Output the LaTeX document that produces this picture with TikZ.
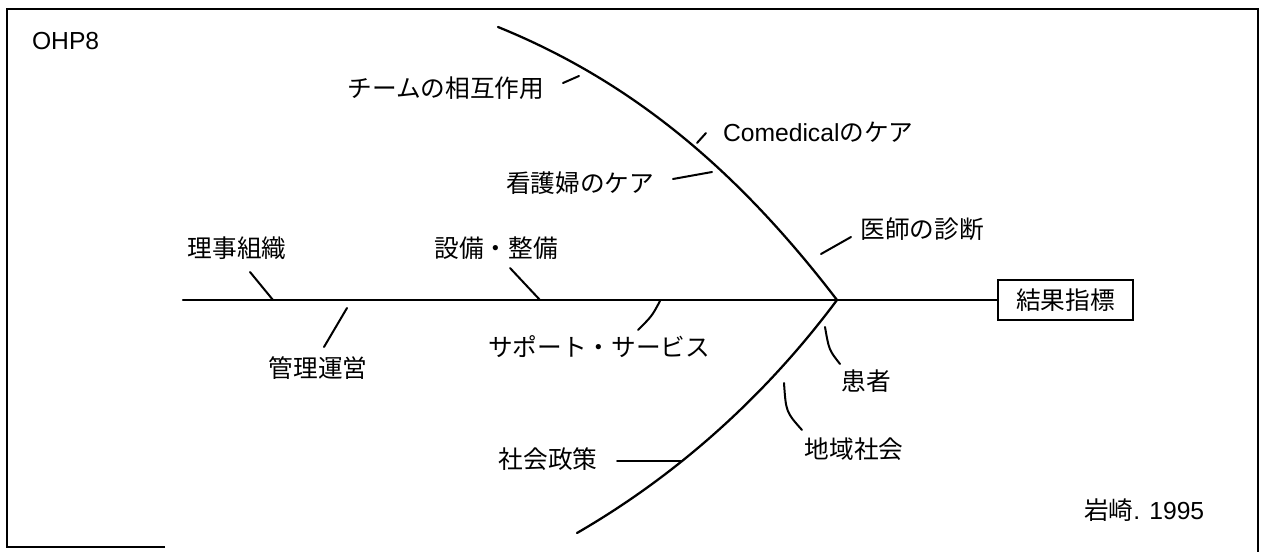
\documentclass[tikz,border=0pt]{standalone}
\usepackage{fontspec}
\setmainfont{Liberation Sans}
\newfontfamily\jp{Noto Sans CJK JP}
\begin{document}
\begin{tikzpicture}[x=0.75pt,y=-0.75pt,
  line width=1.5pt, line cap=round,
  lbl/.style={font=\jp\fontsize{18.5}{22}\selectfont, inner sep=0pt},
  lat/.style={font=\fontsize{18.5}{22}\selectfont, inner sep=0pt},
  resbox/.style={draw, line width=1.6pt, line cap=butt, font=\jp\fontsize{18.5}{22}\selectfont,
    minimum width=101.25pt, minimum height=30pt, inner sep=0pt},
  tick/.style={line width=1.5pt},
  bone/.style={line width=1.7pt}]
\useasboundingbox (0,0) rectangle (1268,552);
\fill[white] (0,0) rectangle (1268,552);
% frame
\draw[line width=1.5pt, line cap=butt] (165,547) -- (7,547) -- (7,9) -- (1258,9) -- (1258,552);

% labels
\node[lat, anchor=west] (ohp) at (31,41) {OHP8};
\node[lbl] (team) at (446,88) {チームの相互作用};
\node[lat, anchor=west] (come) at (722,132) {Comedical{\jp のケア}};
\node[lbl] (kango) at (580,183) {看護婦のケア};
\node[lbl] (ishi) at (922,229) {医師の診断};
\node[lbl] (riji) at (237,248) {理事組織};
\node[lbl] (setsubi) at (496,248) {設備・整備};
\node[lbl] (kanri) at (318,368) {管理運営};
\node[lbl] (support) at (599,347) {サポート・サービス};
\node[lbl] (shakai) at (548,459) {社会政策};
\node[lbl] (kanja) at (866,381) {患者};
\node[lbl] (chiiki) at (854,449) {地域社会};
\node[resbox] (res) at (1065.5,300) {結果指標};
\node[lat, anchor=west] (cite) at (1083,510) {{\jp 岩崎}. 1995};

% skeleton
\coordinate (spL) at (183,300);
\coordinate (apex) at (837,300);
\coordinate (uTop) at (498,27);
\coordinate (lBot) at (577,533);
\draw[bone] (spL) -- (apex) -- (res.west);
\draw[bone] (uTop) .. controls (641,85) and (745,180) .. (apex);
\draw[bone] (apex) .. controls (767,394) and (679,474) .. (lBot);

% ticks
\coordinate (a1) at (250,272); \coordinate (b1) at (273,300);
\coordinate (a2) at (510,268); \coordinate (b2) at (540,300);
\coordinate (a3) at (347,308); \coordinate (b3) at (324,347);
\coordinate (a4) at (660,301); \coordinate (b4) at (638,330);
\coordinate (a5) at (617,461); \coordinate (b5) at (682,461);
\coordinate (a6) at (825,327); \coordinate (b6) at (840,364);
\coordinate (a7) at (784,383); \coordinate (b7) at (802,430);
\coordinate (a8) at (563,83);  \coordinate (b8) at (579,76);
\coordinate (a9) at (697,143); \coordinate (b9) at (706,133);
\coordinate (a10) at (673,179); \coordinate (b10) at (712,172);
\coordinate (a11) at (821,254); \coordinate (b11) at (851,237);
\draw[tick] (a1) -- (b1);
\draw[tick] (a2) -- (b2);
\draw[tick] (a3) -- (b3);
\draw[tick] (a4) .. controls (652,316) .. (b4);
\draw[tick] (a5) -- (b5);
\draw[tick] (a6) .. controls (829,350) .. (b6);
\draw[tick] (a7) .. controls (786,412) .. (b7);
\draw[tick] (a8) -- (b8);
\draw[tick] (a9) -- (b9);
\draw[tick] (a10) -- (b10);
\draw[tick] (a11) -- (b11);
\end{tikzpicture}
\end{document}
